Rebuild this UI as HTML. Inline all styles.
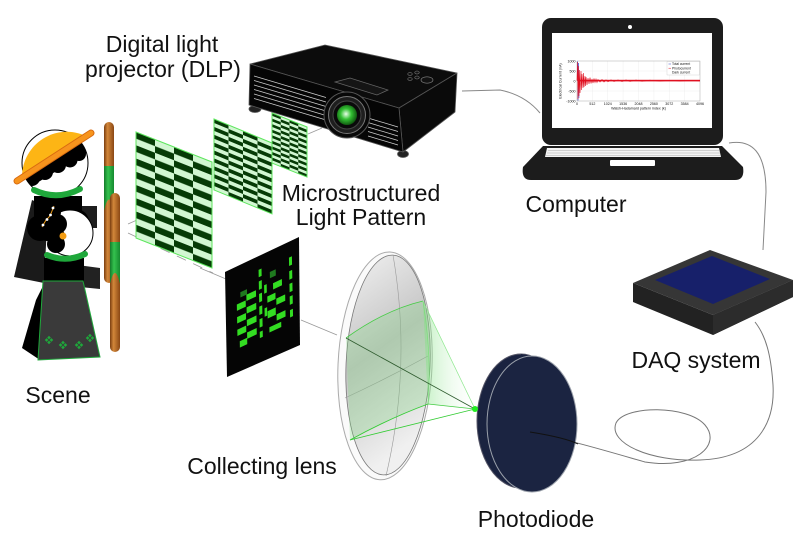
<!DOCTYPE html>
<html><head><meta charset="utf-8"><style>
html,body{margin:0;padding:0;background:#fff;}
svg{display:block;}
text{font-family:"Liberation Sans",Arial,sans-serif;fill:#111;}
</style></head><body>
<svg width="800" height="547" viewBox="0 0 800 547" xmlns="http://www.w3.org/2000/svg">
<defs>
<pattern id="chk" patternUnits="userSpaceOnUse" width="2" height="2">
<rect width="2" height="2" fill="#d2f7d2"/>
<rect x="0" y="0" width="1" height="1" fill="#063b06"/>
<rect x="1" y="1" width="1" height="1" fill="#063b06"/>
</pattern>
<linearGradient id="pole" x1="0" y1="0" x2="1" y2="0">
<stop offset="0" stop-color="#7a3e10"/><stop offset="0.35" stop-color="#d2873a"/><stop offset="1" stop-color="#8a4714"/>
</linearGradient>
<linearGradient id="poleg" x1="0" y1="0" x2="1" y2="0">
<stop offset="0" stop-color="#137a2a"/><stop offset="0.4" stop-color="#34c24e"/><stop offset="1" stop-color="#168a30"/>
</linearGradient>
<linearGradient id="lensg" x1="0" y1="0" x2="0.3" y2="1">
<stop offset="0" stop-color="#f2f2f2"/><stop offset="0.5" stop-color="#c4c4c4"/><stop offset="1" stop-color="#f0f0f0"/>
</linearGradient>
<radialGradient id="lensgreen" cx="0.45" cy="0.45" r="0.6">
<stop offset="0" stop-color="#e8ffe8"/><stop offset="0.45" stop-color="#33c033"/><stop offset="1" stop-color="#0a4a0a"/>
</radialGradient>
<linearGradient id="cone" x1="0" y1="0" x2="1" y2="0">
<stop offset="0" stop-color="#7ae07a" stop-opacity="0.45"/><stop offset="1" stop-color="#ffffff" stop-opacity="0.1"/>
</linearGradient>
</defs>

<!-- cables -->
<path d="M462,91 L500,90 Q525,95 540,113" fill="none" stroke="#888" stroke-width="1"/>
<path d="M729,143 C752,139 766,152 766,192 L763,250" fill="none" stroke="#888" stroke-width="1"/>
<path d="M530,432 C570,440 610,452 645,462 C695,470 722,445 705,425 C688,405 625,405 616,423 C608,443 650,462 700,460 C760,458 775,420 773,385 C771,355 766,336 755,322" fill="none" stroke="#777" stroke-width="1"/>

<!-- guide lines -->
<g stroke="#999" stroke-width="0.8" fill="none">
<path d="M128,233 L213,273" stroke-dasharray="10,8"/>
<path d="M128,224 L137,220"/>
<path d="M308,134 L322,128"/>
<path d="M200,268 L226,279"/>
<path d="M301,320 L337,335"/>
</g>

<!-- patterns -->
<g transform="matrix(8.75,3.5,0,2.78,272,113)">
<rect width="4" height="18" fill="url(#chk)" stroke="#5de65d" stroke-width="1" vector-effect="non-scaling-stroke"/>
</g>
<g transform="matrix(14.5,6,0,3.94,214,119)">
<rect width="4" height="18" fill="url(#chk)" stroke="#5de65d" stroke-width="1" vector-effect="non-scaling-stroke"/>
</g>
<g transform="matrix(19,7.5,0,6.625,136,132)">
<rect width="4" height="16" fill="url(#chk)" stroke="#5de65d" stroke-width="1" vector-effect="non-scaling-stroke"/>
</g>

<!-- reconstructed image -->
<polygon points="225,272 299,237 300,345 227,377" fill="#050505"/>
<g transform="matrix(7.4,-3.5,0.2,10.5,225,272)" fill="#33dd22">
<rect x="2.0" y="2.6" width="0.9" height="0.5" fill="#1f7a1f"/>
<rect x="1.5" y="3.6" width="1.2" height="0.6"/>
<rect x="2.8" y="3.1" width="1.3" height="0.6"/>
<rect x="1.5" y="4.8" width="1.2" height="0.6"/>
<rect x="2.8" y="4.3" width="1.3" height="0.6"/>
<rect x="1.5" y="6.0" width="1.2" height="0.6"/>
<rect x="2.8" y="5.5" width="1.3" height="0.6"/>
<rect x="1.8" y="7.2" width="1.0" height="0.6"/>
<rect x="2.8" y="6.7" width="1.3" height="0.6"/>
<rect x="4.5" y="1.3" width="0.4" height="0.7"/>
<rect x="4.5" y="2.4" width="0.4" height="0.8"/>
<rect x="4.5" y="3.6" width="0.4" height="0.8"/>
<rect x="4.5" y="4.8" width="0.4" height="0.8"/>
<rect x="4.5" y="6.0" width="0.4" height="0.8"/>
<rect x="4.5" y="7.2" width="0.4" height="0.6"/>
<rect x="6.0" y="2.0" width="0.8" height="0.6" fill="#1f7a1f"/>
<rect x="6.4" y="3.2" width="1.2" height="0.6"/>
<rect x="5.6" y="4.2" width="1.1" height="0.6"/>
<rect x="6.8" y="4.8" width="1.2" height="0.6"/>
<rect x="5.6" y="5.6" width="1.1" height="0.7"/>
<rect x="6.8" y="6.3" width="1.2" height="0.6"/>
<rect x="5.8" y="7.2" width="1.6" height="0.5"/>
<rect x="8.6" y="1.5" width="0.4" height="0.8"/>
<rect x="8.6" y="2.8" width="0.4" height="0.8"/>
<rect x="8.6" y="4.0" width="0.4" height="0.8"/>
<rect x="8.6" y="5.2" width="0.4" height="0.8"/>
<rect x="8.6" y="6.5" width="0.4" height="0.7"/>
<rect x="5.2" y="3.0" width="0.35" height="0.8"/>
<rect x="5.2" y="5.2" width="0.35" height="0.8"/>
</g>

<!-- projector -->
<g stroke="#555" stroke-width="0.8" stroke-linejoin="round">
<ellipse cx="255" cy="109" rx="6" ry="3.5" fill="#222"/>
<ellipse cx="403" cy="154" rx="5.5" ry="3.5" fill="#222"/>
<polygon points="250,64 325,45 457,73 399,108" fill="#0c0c0c"/>
<polygon points="399,108 457,73 455,112 403,152" fill="#0a0a0a"/>
<polygon points="250,64 399,108 403,152 249,105" fill="#050505"/>
</g>
<g stroke="#cfcfcf" stroke-width="0.7">
<line x1="254" y1="76" x2="326" y2="97.5"/>
<line x1="254" y1="80.5" x2="326" y2="102"/>
<line x1="254" y1="85" x2="326" y2="106.5"/>
<line x1="254" y1="89.5" x2="326" y2="111"/>
<line x1="254" y1="94" x2="326" y2="115.5"/>
<line x1="254" y1="98.5" x2="326" y2="120"/>
<line x1="368" y1="118" x2="398" y2="127"/>
<line x1="368" y1="122.5" x2="398" y2="131.5"/>
<line x1="368" y1="127" x2="398" y2="136"/>
<line x1="368" y1="131.5" x2="398" y2="140.5"/>
<line x1="368" y1="136" x2="398" y2="145"/>
</g>
<polygon points="335,82 350,78 388,90 377,95" fill="#151515" stroke="#666" stroke-width="0.7"/>
<g fill="#111" stroke="#888" stroke-width="0.6">
<ellipse cx="410" cy="74" rx="2.2" ry="1.5"/>
<ellipse cx="417" cy="72.5" rx="2.2" ry="1.5"/>
<ellipse cx="410" cy="79" rx="2.2" ry="1.5"/>
<ellipse cx="417" cy="77.5" rx="2.2" ry="1.5"/>
<ellipse cx="427" cy="80" rx="6" ry="3.2"/>
</g>
<circle cx="347" cy="115" r="23" fill="#080808" stroke="#555" stroke-width="1"/>
<circle cx="347" cy="115" r="18.5" fill="#1e1e1e" stroke="#777" stroke-width="1"/>
<circle cx="347" cy="115" r="14" fill="#0a0a0a" stroke="#444" stroke-width="1"/>
<circle cx="347" cy="115" r="10" fill="url(#lensgreen)"/>

<!-- laptop -->
<rect x="542" y="18" width="181" height="127" rx="9" fill="#1c1c1c"/>
<circle cx="630" cy="27" r="2" fill="#fff"/>
<rect x="552" y="33" width="160" height="95" fill="#fff"/>
<path d="M543,146 L722,146 L743,167 Q745,180 735,180 L531,180 Q521,180 523,167 Z" fill="#1c1c1c"/>
<polygon points="547,148 719,148 721,157 545,157" fill="#f4f4f4"/>
<g stroke="#aaa" stroke-width="0.6"><line x1="548" y1="150.5" x2="719" y2="150.5"/><line x1="547" y1="153" x2="720" y2="153"/><line x1="546" y1="155.5" x2="721" y2="155.5"/></g>
<rect x="610" y="160" width="45" height="6" rx="1" fill="#fff"/>

<!-- plot -->
<g stroke="#e4e4e4" stroke-width="0.3">
<line x1="592.4" y1="61" x2="592.4" y2="101"/><line x1="607.75" y1="61" x2="607.75" y2="101"/><line x1="623.1" y1="61" x2="623.1" y2="101"/><line x1="638.5" y1="61" x2="638.5" y2="101"/><line x1="653.9" y1="61" x2="653.9" y2="101"/><line x1="669.25" y1="61" x2="669.25" y2="101"/><line x1="684.6" y1="61" x2="684.6" y2="101"/>
<line x1="577" y1="71" x2="700" y2="71"/><line x1="577" y1="81" x2="700" y2="81"/><line x1="577" y1="91" x2="700" y2="91"/>
</g>
<rect x="577" y="61" width="123" height="40" fill="none" stroke="#999" stroke-width="0.4"/>
<path d="M577.5,81 L577.6,61.5 L578,100.5 L578.6,63 L579,98" fill="none" stroke="#3344cc" stroke-width="0.5"/>
<path d="M577,80.7 L577.5,62 L578,99 L578.5,66 L579,96 L579.5,70 L580,93 L581,71 L581.5,90 L582,74 L583,88 L583.5,73 L584,87 L585,76 L585.5,86 L586,77 L587,85 L588,78 L589,84 L590,77.5 L591,83.5 L592,79 L593,83 L594,78.5 L595,82.5 L596,79 L597,82.5 L598,79.5 L600,82 L602,79.5 L604,82 L606,79.8 L608,81.7 L611,79.8 L614,81.6 L618,79.9 L622,81.5 L626,80 L630,81.4 L636,80.1 L642,81.3 L650,80.2 L660,81.2 L670,80.3 L680,81.1 L690,80.4 L700,80.9" fill="none" stroke="#e01020" stroke-width="0.6"/>
<rect x="580" y="79.8" width="120" height="1.6" fill="#e01020"/>
<g font-size="3.6" text-anchor="end">
<text x="575.5" y="62.3">1000</text><text x="575.5" y="72.3">500</text><text x="575.5" y="82.3">0</text><text x="575.5" y="92.3">-500</text><text x="575.5" y="102.3">-1000</text>
</g>
<g font-size="3.6" text-anchor="middle">
<text x="577" y="105">0</text><text x="592.4" y="105">512</text><text x="607.75" y="105">1024</text><text x="623.1" y="105">1536</text><text x="638.5" y="105">2048</text><text x="653.9" y="105">2560</text><text x="669.25" y="105">3072</text><text x="684.6" y="105">3584</text><text x="700" y="105">4096</text>
<text x="638.5" y="109.5">Walsh-Hadamard pattern index (k)</text>
<text x="0" y="0" transform="translate(561.5,81) rotate(-90)">Electrical Current (nA)</text>
</g>
<rect x="667" y="61.5" width="32.5" height="13.5" fill="#fff" stroke="#bbb" stroke-width="0.3"/>
<line x1="668.5" y1="64" x2="671" y2="64" stroke="#3344cc" stroke-width="0.5"/>
<line x1="668.5" y1="68.2" x2="671" y2="68.2" stroke="#e01020" stroke-width="0.5"/>
<g font-size="3.3"><text x="672" y="65.2">Total current</text><text x="672" y="69.4">Photocurrent</text><text x="672" y="73.6">Dark current</text></g>

<!-- DAQ -->
<polygon points="633,283 713,315 793,280 793,297 713,335 633,302" fill="#222"/>
<polygon points="713,315 793,280 793,297 713,335" fill="#2c2c2c"/>
<polygon points="633,283 710,250 793,280 713,315" fill="#363636"/>
<polygon points="655,280 712,256 770,279 713,304" fill="#17206a"/>

<!-- lens -->
<g transform="rotate(2.5 388 366)">
<ellipse cx="385" cy="366" rx="47" ry="114" fill="#fafafa" stroke="#aaa" stroke-width="1"/>
<ellipse cx="388" cy="365" rx="42" ry="110" fill="url(#lensg)" stroke="#777" stroke-width="0.8"/>
</g>
<path d="M393,255 Q412,365 386,476" fill="none" stroke="#999" stroke-width="0.6"/>
<path d="M345,398 Q388,378 428,356" fill="none" stroke="#999" stroke-width="0.6"/>
<path d="M346,338 Q385,310 423,301 Q432,355 428,404 Q390,418 350,440 Z" fill="#7ad87a" fill-opacity="0.28" stroke="none"/>
<path d="M346,338 Q385,310 423,301" fill="none" stroke="#4c4" stroke-width="0.8"/>
<path d="M428,404 Q390,418 350,440" fill="none" stroke="#3c3" stroke-width="0.9"/>
<path d="M423,301 Q432,355 428,404" fill="none" stroke="#6d6" stroke-width="0.6"/>
<polygon points="423,301 475,409 428,404" fill="url(#cone)"/>
<g fill="none">
<line x1="346" y1="338" x2="475" y2="409" stroke="#2d5a2d" stroke-width="0.8"/>
<line x1="350" y1="440" x2="475" y2="409" stroke="#33cc33" stroke-width="0.9"/>
<line x1="423" y1="301" x2="475" y2="409" stroke="#8ee88e" stroke-width="0.7"/>
<line x1="428" y1="404" x2="475" y2="409" stroke="#44cc44" stroke-width="0.7"/>
</g>

<!-- photodiode -->
<ellipse cx="521" cy="421" rx="44" ry="67" fill="#1a2340" stroke="#556" stroke-width="1"/>
<path d="M521,354 L532,356 L532,492 L521,488 Z" fill="#1a2340"/>
<ellipse cx="532" cy="424" rx="45" ry="68" fill="#1b2441" stroke="#9aa0aa" stroke-width="1"/>
<circle cx="475" cy="409" r="3" fill="#22ee22"/>
<path d="M530,432 C555,436 570,440 578,444" fill="none" stroke="#111" stroke-width="0.9"/>

<!-- scene figure -->
<rect x="104" y="122" width="10" height="161" rx="5" fill="url(#pole)"/>
<rect x="104" y="166" width="10" height="44" fill="url(#poleg)"/>
<path d="M104,211 Q109,188 114,211 Z" fill="url(#pole)"/>
<rect x="110" y="193" width="10" height="159" rx="5" fill="url(#pole)"/>
<rect x="110" y="242" width="10" height="41" fill="url(#poleg)"/>
<path d="M110,284 Q115,262 120,284 Z" fill="url(#pole)"/>

<polygon points="32,200 48,207 44,283 14,277" fill="#1a1a1a"/>
<rect x="76" y="206" width="21" height="22" fill="#1e1e1e"/>
<g fill="#000">
<rect x="34" y="196" width="48" height="32"/>
<circle cx="40" cy="228" r="13"/>
<circle cx="56" cy="218" r="14"/>
<circle cx="76" cy="222" r="13"/>
<circle cx="83" cy="236" r="9"/>
</g>
<circle cx="55" cy="163" r="33" fill="#fff" stroke="#000" stroke-width="1"/>
<clipPath id="h1"><circle cx="55" cy="163" r="33"/></clipPath>
<g clip-path="url(#h1)" fill="#000">
<circle cx="32" cy="178" r="8"/><circle cx="45" cy="172" r="8"/><circle cx="58" cy="165" r="8"/><circle cx="70" cy="160" r="7.5"/><circle cx="79" cy="154" r="7"/>
<polygon points="17,181 91,133 91,150 17,195"/>
</g>
<path d="M22,176 A45,45 0 0 1 86,136 Z" fill="#fdb515"/>
<line x1="17" y1="181" x2="91" y2="133" stroke="#d86a10" stroke-width="7" stroke-linecap="round"/>
<line x1="17" y1="181" x2="91" y2="133" stroke="#f7941d" stroke-width="5" stroke-linecap="round"/>
<path d="M34,190 Q57,201 80,189" fill="none" stroke="#1fa83b" stroke-width="6" stroke-linecap="round"/>

<circle cx="70" cy="233" r="23" fill="#fff" stroke="#000" stroke-width="1"/>
<g fill="#000">
<circle cx="45" cy="214" r="11"/><circle cx="47" cy="230" r="11"/><circle cx="56" cy="244" r="9"/><circle cx="57" cy="224" r="10"/><circle cx="52" cy="212" r="9"/><circle cx="58" cy="236" r="7"/>
</g>
<path d="M42,227 L46,220 L50,216 L52,211 L54,206" fill="none" stroke="#f39c12" stroke-width="1"/>
<g fill="#fff"><circle cx="43" cy="225" r="1.4"/><circle cx="47" cy="219.5" r="1.4"/><circle cx="50.5" cy="215" r="1.4"/><circle cx="53" cy="208" r="1.4"/></g>
<circle cx="63" cy="236" r="3.5" fill="#f39c12"/>
<polygon points="43,286 40,360 22,348 36,300" fill="#000"/>
<polygon points="70,264 100,268 100,289 70,286" fill="#222"/>
<rect x="44" y="258" width="40" height="27" fill="#000"/>
<polygon points="43,281 83,281 100,357 38,360" fill="#3a3a3a" stroke="#1fa83b" stroke-width="1"/>
<path d="M47,255 Q66,263 85,254" fill="none" stroke="#1fa83b" stroke-width="6" stroke-linecap="round"/>
<g fill="#1fa83b">
<g transform="translate(49,340) rotate(45)"><rect x="-3" y="-3" width="2.6" height="2.6"/><rect x="0.4" y="-3" width="2.6" height="2.6"/><rect x="-3" y="0.4" width="2.6" height="2.6"/><rect x="0.4" y="0.4" width="2.6" height="2.6"/></g>
<g transform="translate(63,345) rotate(45)"><rect x="-3" y="-3" width="2.6" height="2.6"/><rect x="0.4" y="-3" width="2.6" height="2.6"/><rect x="-3" y="0.4" width="2.6" height="2.6"/><rect x="0.4" y="0.4" width="2.6" height="2.6"/></g>
<g transform="translate(79,345) rotate(45)"><rect x="-3" y="-3" width="2.6" height="2.6"/><rect x="0.4" y="-3" width="2.6" height="2.6"/><rect x="-3" y="0.4" width="2.6" height="2.6"/><rect x="0.4" y="0.4" width="2.6" height="2.6"/></g>
<g transform="translate(90,338) rotate(45)"><rect x="-3" y="-3" width="2.6" height="2.6"/><rect x="0.4" y="-3" width="2.6" height="2.6"/><rect x="-3" y="0.4" width="2.6" height="2.6"/><rect x="0.4" y="0.4" width="2.6" height="2.6"/></g>
</g>

<g font-size="23" text-anchor="middle">
<text x="162" y="52">Digital light</text>
<text x="163" y="77">projector (DLP)</text>
<text x="361" y="201">Microstructured</text>
<text x="361" y="225">Light Pattern</text>
<text x="576" y="212">Computer</text>
<text x="696" y="368">DAQ system</text>
<text x="58" y="403">Scene</text>
<text x="262" y="474">Collecting lens</text>
<text x="536" y="527">Photodiode</text>
</g>
</svg>
</body></html>
